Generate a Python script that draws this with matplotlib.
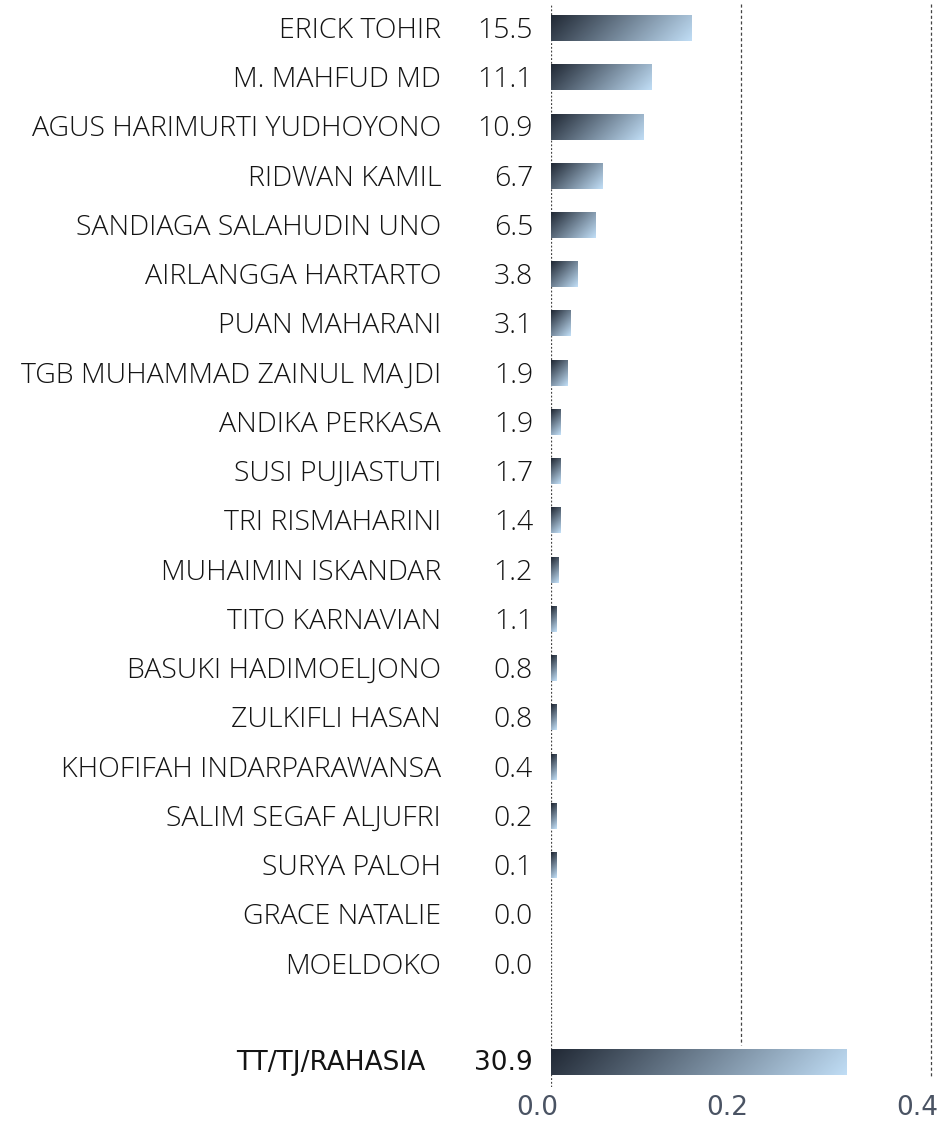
import numpy as np
import matplotlib
matplotlib.use("Agg")
import matplotlib.pyplot as plt
from matplotlib.colors import LinearSegmentedColormap
from matplotlib.transforms import ScaledTranslation, blended_transform_factory

names = ["ERICK TOHIR", "M. MAHFUD MD", "AGUS HARIMURTI YUDHOYONO", "RIDWAN KAMIL",
         "SANDIAGA SALAHUDIN UNO", "AIRLANGGA HARTARTO", "PUAN MAHARANI",
         "TGB MUHAMMAD ZAINUL MAJDI", "ANDIKA PERKASA", "SUSI PUJIASTUTI",
         "TRI RISMAHARINI", "MUHAIMIN ISKANDAR", "TITO KARNAVIAN",
         "BASUKI HADIMOELJONO", "ZULKIFLI HASAN", "KHOFIFAH INDARPARAWANSA",
         "SALIM SEGAF ALJUFRI", "SURYA PALOH", "GRACE NATALIE", "MOELDOKO"]
value_labels = ["15.5", "11.1", "10.9", "6.7", "6.5", "3.8", "3.1", "1.9", "1.9", "1.7",
                "1.4", "1.2", "1.1", "0.8", "0.8", "0.4", "0.2", "0.1", "0.0", "0.0"]
bar_values = [0.148, 0.106, 0.097, 0.054, 0.047, 0.028, 0.021, 0.017, 0.0095, 0.0095,
              0.0095, 0.008, 0.006, 0.006, 0.006, 0.006, 0.006, 0.006, 0.0, 0.0]
total_name = "TT/TJ/RAHASIA"
total_label = "30.9"
total_value = 0.311
xticks = [0.0, 0.2, 0.4]
xtick_labels = ["0.0", "0.2", "0.4"]

W, H = 947, 1124
fig = plt.figure(figsize=(W / 100, H / 100), dpi=100)
left_px, right_px = 551, 931
n_slots = 22
sp = 49.24
top_px = 28.5 - sp / 2
bot_px = top_px + n_slots * sp
ax = fig.add_axes([left_px / W, 1 - bot_px / H, (right_px - left_px) / W, (bot_px - top_px) / H])

px_per_x = (right_px - left_px) / 0.4
px_per_y = sp
bar_h = 0.51

cmap = LinearSegmentedColormap.from_list("g", ["#212935", "#c0ddf5"])

def grad_bar(y, v):
    if v <= 0:
        return
    wp = max(v * px_per_x, 1)
    hp = bar_h * px_per_y
    nx = max(int(wp), 2)
    ny = max(int(hp), 2)
    xs = np.linspace(0, wp, nx)
    ys = np.linspace(0, hp, ny)
    X, Y = np.meshgrid(xs, ys)
    t = (X + Y) / (wp + hp)
    ax.imshow(t, cmap=cmap, vmin=0, vmax=1, aspect="auto",
              extent=(0, v, y + bar_h / 2, y - bar_h / 2), interpolation="bilinear", zorder=3)

ypos = list(range(len(names)))
for y, v in zip(ypos, bar_values):
    grad_bar(y, v)
ty = n_slots - 1
grad_bar(ty, total_value)
ax.set_xlim(0, 0.4)
ax.set_ylim(n_slots - 0.5, -0.5)

tr = blended_transform_factory(fig.transFigure, ax.transData)
down = ScaledTranslation(0, -2.5 / 100, fig.dpi_scale_trans)
name_font = dict(family=["Open Sans", "DejaVu Sans"], fontsize=20.5, color="#141414", fontweight="light")
for y, nm, lab in zip(ypos, names, value_labels):
    ax.text(441 / W, y, nm, transform=tr + down, ha="right", va="center", **name_font)
    ax.text(533 / W, y, lab, transform=tr + down, ha="right", va="center", **name_font)

tot_font = dict(family=["Liberation Sans Narrow", "DejaVu Sans"], fontsize=19, color="#141414")
ax.text(425 / W, ty, total_name, transform=tr, ha="right", va="center", **tot_font)
ax.text(533 / W, ty, total_label, transform=tr, ha="right", va="center", **tot_font)

# gridlines
ax.axvline(0, color="#444444", lw=0.9, ls=(0, (1.5, 1.5)), zorder=1)
ax.plot([0.2, 0.2], [-0.5, n_slots - 1.35], color="#444444", lw=0.9, ls=(0, (2.5, 2)),
        zorder=1, clip_on=False)
ax.plot([0.4, 0.4], [-0.5, n_slots - 0.7], color="#444444", lw=0.9, ls=(0, (2.5, 2)),
        zorder=1, clip_on=False)

for s in ax.spines.values():
    s.set_visible(False)
ax.set_yticks([])
ax.set_xticks(xticks)
ax.set_xticklabels(xtick_labels, family=["Liberation Sans Narrow", "DejaVu Sans"],
                   fontsize=19, color="#4a5363")
ax.tick_params(axis="x", length=0, pad=6)
for lab in ax.get_xticklabels():
    lab.set_transform(lab.get_transform() + ScaledTranslation(-14 / 100, 0, fig.dpi_scale_trans))

fig.savefig("out.png", dpi=100, facecolor="white")
